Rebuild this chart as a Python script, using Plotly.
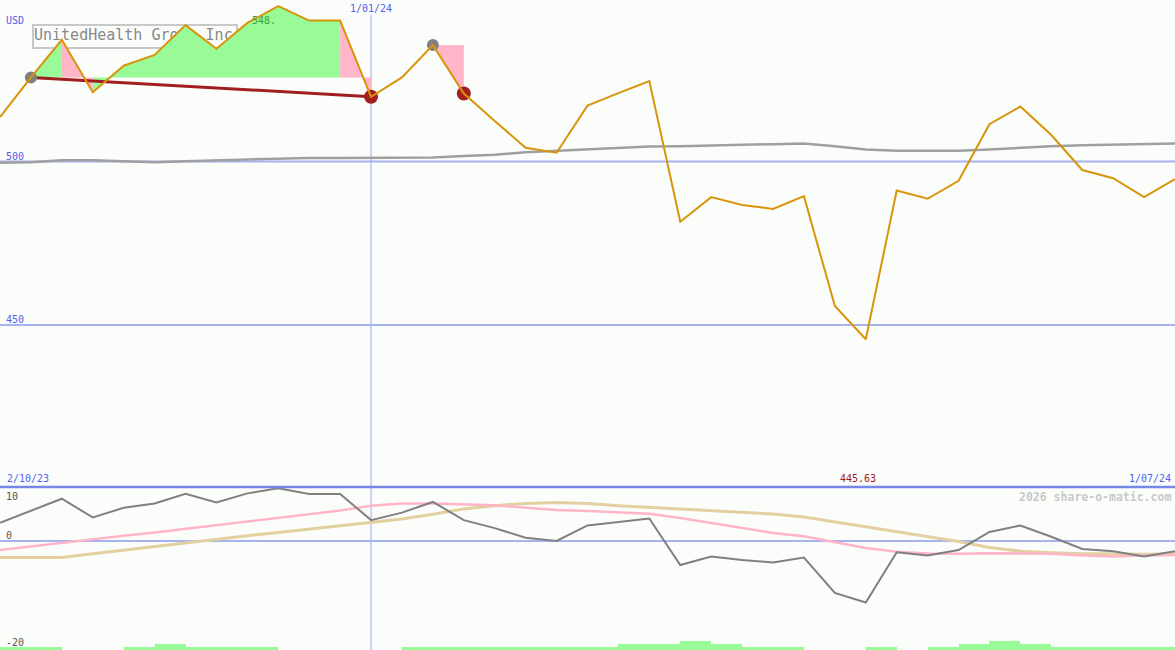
import plotly.graph_objects as go
import pandas as pd

# ---------------- data ----------------
dates = pd.date_range("2023-10-09", periods=39, freq="7D")

price = [513.6, 525.7, 537.2, 521.2, 529.3, 532.6, 541.7, 534.5, 542.4, 547.5,
         543.1, 543.1, 519.8, 525.7, 535.6, 520.8, 512.4, 504.2, 502.7, 517.1,
         520.9, 524.6, 481.6, 489.1, 486.7, 485.5, 489.4, 455.8, 445.63, 491.1,
         488.6, 494.1, 511.4, 516.8, 508.1, 497.4, 494.9, 489.1, 494.6]

ma_long = [499.6, 499.8, 500.4, 500.4, 500.1, 499.8, 500.1, 500.4, 500.7, 500.9,
           501.1, 501.1, 501.1, 501.1, 501.2, 501.7, 502.1, 502.8, 503.3, 503.7,
           504.1, 504.6, 504.7, 504.9, 505.2, 505.5, 505.5, 504.7, 503.7, 503.3,
           503.3, 503.3, 503.7, 504.3, 504.7, 505.0, 505.2, 505.4, 505.5]

osc = [3.4, 5.6, 7.9, 4.4, 6.2, 7.0, 8.8, 7.2, 8.9, 9.85,
       8.8, 8.8, 3.9, 5.3, 7.3, 3.9, 2.4, 0.6, 0.0, 2.9,
       3.5, 4.2, -4.5, -2.9, -3.55, -4.0, -3.1, -9.7, -11.5, -2.1,
       -2.7, -1.7, 1.7, 2.9, 0.8, -1.5, -1.9, -2.9, -1.9]

osc_signal = [-1.7, -1.0, -0.3, 0.3, 1.0, 1.6, 2.3, 3.0, 3.6, 4.3,
              5.0, 5.7, 6.6, 7.0, 7.0, 6.9, 6.7, 6.2, 5.8, 5.6,
              5.4, 5.1, 4.3, 3.4, 2.5, 1.5, 0.9, -0.2, -1.3, -2.0,
              -2.35, -2.4, -2.3, -2.35, -2.4, -2.7, -2.9, -2.7, -2.6]

osc_slow = [-3.1, -3.1, -3.1, -2.4, -1.7, -1.0, -0.3, 0.4, 1.0, 1.6,
            2.2, 2.8, 3.4, 4.1, 5.0, 6.0, 6.6, 7.0, 7.2, 7.0,
            6.6, 6.3, 5.9, 5.7, 5.35, 5.05, 4.5, 3.6, 2.7, 1.7,
            0.8, -0.1, -1.2, -1.9, -2.2, -2.4, -2.4, -2.5, -2.4]

# relative weekly volume level (one per interval between points)
vol_level = [1, 1, 0, 0, 1, 2, 1, 1, 1, 0, 0, 0, 0, 1, 1, 1, 1, 1, 1,
             1, 2, 2, 3, 2, 1, 1, 0, 0, 1, 0, 1, 2, 3, 2, 1, 1, 1, 1]

trend_start, trend_end = 1, 12      # gray dot -> red dot with trend line
pair_start, pair_end = 14, 15       # second gray dot -> red dot
drop_threshold = 0.02               # segments falling more than this are pink

title_text = "UnitedHealth Group Inc"
max_label = "548."
min_label = "445.63"
date_marker = "2024-01-01"
date_marker_label = "1/01/24"
left_date_label = "2/10/23"
right_date_label = "1/07/24"
price_ticks = [500, 450]
osc_tick_labels = [("10", 496), ("0", 535), ("-20", 642)]

# ---------------- geometry ----------------
W, H = 1175, 650
TOP_PIX = 487
split = (H - TOP_PIX) / H
P_RANGE = [400.46, 549.39]
O_RANGE = [-20.37, 10.09]
V_RANGE = [0, (H - TOP_PIX) / 3.0]
BG = "#fbfdfb"
MONO = "DejaVu Sans Mono"
BLUE_TXT = "#4f62f0"


def py(pix):
    return 1 - pix / H


def pxp(pix):
    return pix / W


days_per_px = (dates[-1] - dates[0]).days / W


def x_at(pix):
    return dates[0] + pd.Timedelta(days=pix * days_per_px)


def price_at(pix):
    return P_RANGE[1] - pix / TOP_PIX * (P_RANGE[1] - P_RANGE[0])


fig = go.Figure()

# volume bars (bottom)
mid = [dates[i] + pd.Timedelta(days=3.5) for i in range(len(vol_level))]
fig.add_trace(go.Bar(x=mid, y=vol_level, xaxis="x2", yaxis="y3",
                     marker=dict(color="#98fb98", line=dict(width=0)),
                     width=7 * 24 * 3600 * 1000, hoverinfo="skip"))

# title text (drawn under fills)
fig.add_trace(go.Scatter(x=[x_at(34)], y=[price_at(36.5)], mode="text",
                         text=[title_text], textposition="middle right",
                         textfont=dict(family=MONO, size=15, color="#888888"),
                         hoverinfo="skip"))


# fills between price and baseline
def polys(i0, i1, base):
    gx, gy, rx, ry = [], [], [], []
    for i in range(i0, i1):
        xs = [dates[i], dates[i], dates[i + 1], dates[i + 1], dates[i], None]
        ys = [base, price[i], price[i + 1], base, base, None]
        if price[i + 1] >= price[i] * (1 - drop_threshold):
            gx += xs; gy += ys
        else:
            rx += xs; ry += ys
    return gx, gy, rx, ry


gx, gy, rx, ry = polys(trend_start, trend_end, price[trend_start])
gx2, gy2, rx2, ry2 = polys(pair_start, pair_end, price[pair_start])
gx += gx2; gy += gy2; rx += rx2; ry += ry2
if gx:
    fig.add_trace(go.Scatter(x=gx, y=gy, mode="lines", fill="toself",
                             fillcolor="#98fb98", line=dict(width=0),
                             hoverinfo="skip"))
if rx:
    fig.add_trace(go.Scatter(x=rx, y=ry, mode="lines", fill="toself",
                             fillcolor="#ffb6c8", line=dict(width=0),
                             hoverinfo="skip"))

# long moving average
fig.add_trace(go.Scatter(x=dates, y=ma_long, mode="lines",
                         line=dict(color="#a0a0a0", width=2.5)))

# trend line
fig.add_trace(go.Scatter(x=[dates[trend_start], dates[trend_end]],
                         y=[price[trend_start], price[trend_end]], mode="lines",
                         line=dict(color="#a01e1e", width=3)))

# markers
fig.add_trace(go.Scatter(x=[dates[trend_start], dates[pair_start]],
                         y=[price[trend_start], price[pair_start]], mode="markers",
                         marker=dict(color="#808080", size=12)))
fig.add_trace(go.Scatter(x=[dates[trend_end], dates[pair_end]],
                         y=[price[trend_end], price[pair_end]], mode="markers",
                         marker=dict(color="#a41e1e", size=14)))

# price line
fig.add_trace(go.Scatter(x=dates, y=price, mode="lines",
                         line=dict(color="#d8940a", width=2)))

# oscillator panel
fig.add_trace(go.Scatter(x=dates, y=osc_slow, xaxis="x2", yaxis="y2", mode="lines",
                         line=dict(color="#e2d0a0", width=3)))
fig.add_trace(go.Scatter(x=dates, y=osc_signal, xaxis="x2", yaxis="y2", mode="lines",
                         line=dict(color="#ffb4c8", width=2.5)))
fig.add_trace(go.Scatter(x=dates, y=osc, xaxis="x2", yaxis="y2", mode="lines",
                         line=dict(color="#808080", width=2)))

shapes = []
# price gridlines
for v in price_ticks:
    shapes.append(dict(type="line", xref="paper", yref="y", x0=0, x1=1, y0=v, y1=v,
                       line=dict(color="#a6b2f2", width=2), layer="below"))
# zero line
shapes.append(dict(type="line", xref="paper", yref="y2", x0=0, x1=1, y0=0, y1=0,
                   line=dict(color="#a6b2f2", width=2), layer="below"))
# date marker vertical line
shapes.append(dict(type="line", xref="x", yref="paper", x0=date_marker, x1=date_marker,
                   y0=0, y1=py(15), line=dict(color="#a0a8f8", width=1), layer="below"))
# divider
shapes.append(dict(type="line", xref="paper", yref="paper", x0=0, x1=1,
                   y0=split, y1=split, line=dict(color="#7787e8", width=2.5)))
# title box
shapes.append(dict(type="rect", xref="paper", yref="paper", x0=pxp(33), x1=pxp(237),
                   y0=py(48), y1=py(25), line=dict(color="#c8c8c8", width=2),
                   layer="below"))

annotations = []


def ann(text, x, y, xanchor="left", color=BLUE_TXT, size=10, xref="paper",
        yref="paper", bold=False):
    annotations.append(dict(text=f"<b>{text}</b>" if bold else text, x=x, y=y,
                            xref=xref, yref=yref, xanchor=xanchor, yanchor="middle",
                            showarrow=False,
                            font=dict(family=MONO, size=size, color=color)))


ann("USD", pxp(4), py(20.5))
ann(date_marker_label, date_marker, py(9), xanchor="center", xref="x")
ann(max_label, dates[price.index(max(price))], py(21), xanchor="right", xref="x",
    color="#38a038")
for v in price_ticks:
    annotations.append(dict(text=str(v), x=pxp(4), y=v, xref="paper", yref="y",
                            xanchor="left", yanchor="bottom", showarrow=False,
                            yshift=-2,
                            font=dict(family=MONO, size=10, color=BLUE_TXT)))
ann(left_date_label, pxp(5), py(478.5))
ann(min_label, pxp(858), py(478.5), xanchor="center", color="#a01818")
ann(right_date_label, pxp(1173), py(478.5), xanchor="right")
ann("2026 share-o-matic.com", pxp(1173), py(496.5), xanchor="right",
    color="#c8c8c8", size=11.5, bold=True)
for t, ypix in osc_tick_labels:
    ann(t, pxp(4), py(ypix), color="#555555")

rng = [dates[0], dates[-1]]
fig.update_layout(
    width=W, height=H, margin=dict(l=0, r=0, t=0, b=0),
    paper_bgcolor=BG, plot_bgcolor=BG, showlegend=False,
    xaxis=dict(domain=[0, 1], range=rng, visible=False, anchor="y"),
    yaxis=dict(domain=[split, 1], range=P_RANGE, visible=False),
    xaxis2=dict(domain=[0, 1], range=rng, visible=False, anchor="y2", matches="x"),
    yaxis2=dict(domain=[0, split], range=O_RANGE, visible=False),
    yaxis3=dict(overlaying="y2", range=V_RANGE, visible=False),
    bargap=0,
    shapes=shapes, annotations=annotations,
)

fig.write_html("out.html",
               config={"displayModeBar": False},
               post_script="document.body.style.margin='0';"
                           "document.body.style.overflow='hidden';"
                           f"document.body.style.background='{BG}';")
